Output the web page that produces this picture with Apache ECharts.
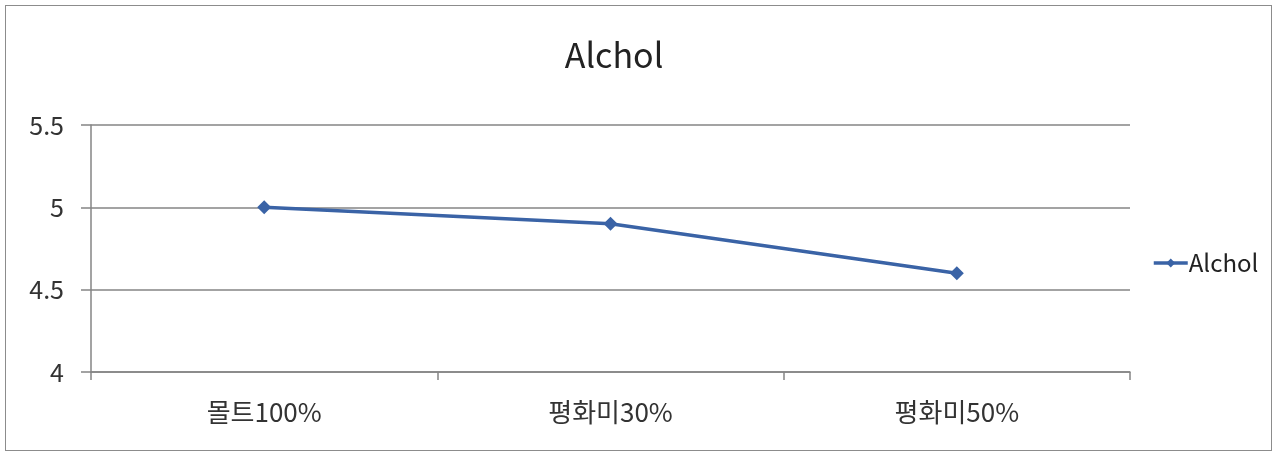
<!DOCTYPE html>
<html>
<head>
<meta charset="utf-8">
<script src="https://cdn.jsdelivr.net/npm/echarts@6/dist/echarts.min.js"></script>
<style>
  html, body { margin: 0; padding: 0; background: #fff; }
  #frame {
    position: absolute; left: 5px; top: 5px;
    width: 1265px; height: 444px;
    border: 1px solid #8c8c8c;
  }
  #chart { position: absolute; left: 0; top: 0; width: 1277px; height: 454px; }
</style>
</head>
<body>
<div id="frame"></div>
<div id="chart"></div>
<script>
// 数据
const categories = ['몰트100%', '평화미30%', '평화미50%']
const alcholValues = [5, 4.9, 4.6]
const yMin = 4
const yMax = 5.5
const yStep = 0.5

const chart = echarts.init(document.getElementById('chart'))
const font = '"Noto Sans CJK KR", "Noto Sans", sans-serif'

const option = {
  animation: false,
  title: {
    text: 'Alchol',
    left: 609,
    top: 33,
    textAlign: 'center',
    textStyle: { fontFamily: font, fontSize: 34, fontWeight: 'normal', color: '#222' }
  },
  legend: {
    data: ['Alchol'],
    orient: 'vertical',
    left: 1147,
    top: 246,
    itemWidth: 34,
    itemHeight: 11,
    itemGap: 4,
    lineStyle: { width: 3.5 },
    textStyle: { fontFamily: font, fontSize: 24, color: '#222', padding: [0, 0, 0, -4] }
  },
  grid: { left: 91, right: 147, top: 125, bottom: 82 },
  xAxis: {
    type: 'category',
    data: categories,
    boundaryGap: true,
    axisLine: { lineStyle: { color: '#858585', width: 1.5 } },
    axisTick: { show: true, length: 8, lineStyle: { color: '#858585', width: 1.5 } },
    axisLabel: { fontFamily: font, fontSize: 26, color: '#333', margin: 27 }
  },
  yAxis: {
    type: 'value',
    min: yMin,
    max: yMax,
    interval: yStep,
    axisLine: { show: true, lineStyle: { color: '#858585', width: 1.5 } },
    axisTick: { show: true, length: 10, inside: false, lineStyle: { color: '#858585', width: 1.5 } },
    axisLabel: { fontFamily: font, fontSize: 25, color: '#333', margin: 27 },
    splitLine: { lineStyle: { color: '#858585', width: 1.5 } }
  },
  series: [{
    name: 'Alchol',
    type: 'line',
    data: alcholValues,
    symbol: 'diamond',
    symbolSize: 14,
    itemStyle: { color: '#3A63A6' },
    lineStyle: { color: '#3A63A6', width: 3.5 }
  }]
}
chart.setOption(option)
</script>
</body>
</html>
